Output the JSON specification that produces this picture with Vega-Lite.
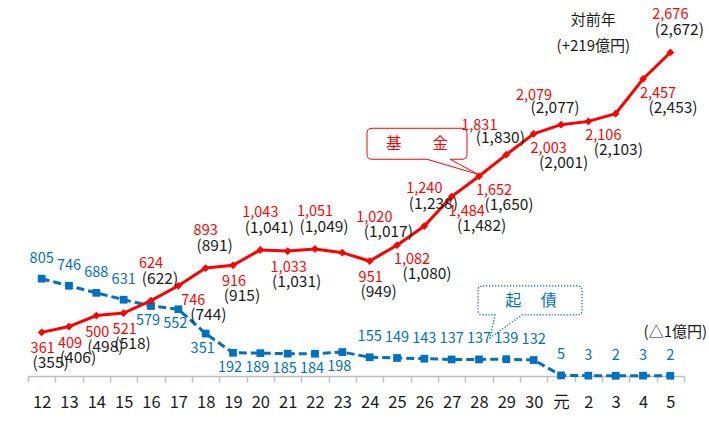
{
  "$schema": "https://vega.github.io/schema/vega-lite/v6.json",
  "width": 656,
  "height": 376,
  "autosize": {"type": "none"},
  "padding": {"left": 28, "top": 0, "right": 25, "bottom": 51},
  "background": "white",
  "config": {
    "view": {"stroke": null},
    "font": "Noto Sans CJK JP",
    "text": {"font": "Noto Sans CJK JP", "fontSize": 14, "baseline": "middle"}
  },
  "datasets": {
    "main": [
      {"year": "12", "fund": 361, "fundPrev": "(355)", "bond": 805},
      {"year": "13", "fund": 409, "fundPrev": "(406)", "bond": 746},
      {"year": "14", "fund": 500, "fundPrev": "(498)", "bond": 688},
      {"year": "15", "fund": 521, "fundPrev": "(518)", "bond": 631},
      {"year": "16", "fund": 624, "fundPrev": "(622)", "bond": 579},
      {"year": "17", "fund": 746, "fundPrev": "(744)", "bond": 552},
      {"year": "18", "fund": 893, "fundPrev": "(891)", "bond": 351},
      {"year": "19", "fund": 916, "fundPrev": "(915)", "bond": 192},
      {"year": "20", "fund": 1043, "fundPrev": "(1,041)", "bond": 189},
      {"year": "21", "fund": 1033, "fundPrev": "(1,031)", "bond": 185},
      {"year": "22", "fund": 1051, "fundPrev": "(1,049)", "bond": 184},
      {"year": "23", "fund": 1020, "fundPrev": "(1,017)", "bond": 198},
      {"year": "24", "fund": 951, "fundPrev": "(949)", "bond": 155},
      {"year": "25", "fund": 1082, "fundPrev": "(1,080)", "bond": 149},
      {"year": "26", "fund": 1240, "fundPrev": "(1,238)", "bond": 143},
      {"year": "27", "fund": 1484, "fundPrev": "(1,482)", "bond": 137},
      {"year": "28", "fund": 1652, "fundPrev": "(1,650)", "bond": 137},
      {"year": "29", "fund": 1831, "fundPrev": "(1,830)", "bond": 139},
      {"year": "30", "fund": 2003, "fundPrev": "(2,001)", "bond": 132},
      {"year": "元", "fund": 2079, "fundPrev": "(2,077)", "bond": 5},
      {"year": "2", "fund": 2106, "fundPrev": "(2,103)", "bond": 3},
      {"year": "3", "fund": 2170, "fundPrev": null, "bond": 2},
      {"year": "4", "fund": 2457, "fundPrev": "(2,453)", "bond": 3},
      {"year": "5", "fund": 2676, "fundPrev": "(2,672)", "bond": 2}
    ]
  },
  "data": {"name": "main"},
  "encoding": {
    "x": {
      "field": "year",
      "type": "ordinal",
      "sort": null,
      "scale": {
        "type": "band",
        "domain": ["12", "13", "14", "15", "16", "17", "18", "19", "20", "21", "22", "23", "24", "25", "26", "27", "28", "29", "30", "元", "2", "3", "4", "5"],
        "paddingInner": 0,
        "paddingOuter": 0
      },
      "axis": {
        "title": null,
        "tickBand": "extent",
        "grid": false,
        "labelAngle": 0,
        "domainColor": "#BFBFBF",
        "domainWidth": 1.5,
        "tickColor": "#BFBFBF",
        "tickWidth": 1.5,
        "tickSize": 6,
        "labelFont": "Noto Sans CJK JP",
        "labelFontSize": 16.5,
        "labelColor": "#1a1a1a",
        "labelPadding": 12
      }
    }
  },
  "layer": [
    {
      "mark": {"type": "line", "color": "#0070C0", "strokeWidth": 3, "strokeDash": [8, 4]},
      "encoding": {"y": {"field": "bond", "type": "quantitative", "scale": {"domain": [0, 3110]}, "axis": null}}
    },
    {
      "mark": {"type": "point", "shape": "square", "filled": true, "size": 60, "color": "#0070C0", "opacity": 1},
      "encoding": {"y": {"field": "bond", "type": "quantitative", "scale": {"domain": [0, 3110]}, "axis": null}}
    },
    {
      "data": {"values": [{"year": "28", "value": 1652, "name": "基　　金"}]},
      "layer": [
        {
          "mark": {
            "type": "point",
            "shape": "M -107,-48 H -17 Q -12,-48 -12,-43 V -22 Q -12,-17 -17,-17 H -29 L -1,-2 L -52,-17 H -107 Q -112,-17 -112,-22 V -43 Q -112,-48 -107,-48 Z",
            "size": 4,
            "filled": true,
            "fill": "white",
            "stroke": "#FF0000",
            "strokeWidth": 1,
            "opacity": 1
          },
          "encoding": {"y": {"field": "value", "type": "quantitative", "scale": {"domain": [0, 3110]}, "axis": null}}
        },
        {
          "mark": {"type": "text", "color": "#FF0000", "fontSize": 15.5, "dx": -62, "dy": -32},
          "encoding": {
            "y": {"field": "value", "type": "quantitative", "scale": {"domain": [0, 3110]}, "axis": null},
            "text": {"field": "name"}
          }
        }
      ]
    },
    {
      "mark": {"type": "line", "color": "#FF0000", "strokeWidth": 3},
      "encoding": {"y": {"field": "fund", "type": "quantitative", "scale": {"domain": [0, 3110]}, "axis": null}}
    },
    {
      "mark": {"type": "point", "shape": "diamond", "filled": true, "size": 60, "color": "#FF0000", "opacity": 1},
      "encoding": {"y": {"field": "fund", "type": "quantitative", "scale": {"domain": [0, 3110]}, "axis": null}}
    },
    {
      "transform": [{"filter": {"field": "year", "oneOf": ["16", "18", "20", "22", "26", "5"]}}],
      "layer": [
        {
          "mark": {"type": "text", "color": "#FF0000", "fontSize": 14.5, "dx": 0, "dy": -37},
          "encoding": {
            "y": {"field": "fund", "type": "quantitative", "scale": {"domain": [0, 3110]}, "axis": null},
            "text": {"field": "fund", "type": "quantitative", "format": ","}
          }
        },
        {
          "mark": {"type": "text", "color": "#1a1a1a", "fontSize": 15.5, "dx": 9, "dy": -22},
          "encoding": {
            "y": {"field": "fund", "type": "quantitative", "scale": {"domain": [0, 3110]}, "axis": null},
            "text": {"field": "fundPrev"}
          }
        }
      ]
    },
    {
      "transform": [{"filter": {"field": "year", "oneOf": ["23"]}}],
      "layer": [
        {
          "mark": {"type": "text", "color": "#FF0000", "fontSize": 14.5, "dx": 32, "dy": -35},
          "encoding": {
            "y": {"field": "fund", "type": "quantitative", "scale": {"domain": [0, 3110]}, "axis": null},
            "text": {"field": "fund", "type": "quantitative", "format": ","}
          }
        },
        {
          "mark": {"type": "text", "color": "#1a1a1a", "fontSize": 15.5, "dx": 46, "dy": -21},
          "encoding": {
            "y": {"field": "fund", "type": "quantitative", "scale": {"domain": [0, 3110]}, "axis": null},
            "text": {"field": "fundPrev"}
          }
        }
      ]
    },
    {
      "transform": [{"filter": {"field": "year", "oneOf": ["29", "元"]}}],
      "layer": [
        {
          "mark": {"type": "text", "color": "#FF0000", "fontSize": 14.5, "dx": -27, "dy": -29},
          "encoding": {
            "y": {"field": "fund", "type": "quantitative", "scale": {"domain": [0, 3110]}, "axis": null},
            "text": {"field": "fund", "type": "quantitative", "format": ","}
          }
        },
        {
          "mark": {"type": "text", "color": "#1a1a1a", "fontSize": 15.5, "dx": -6, "dy": -17},
          "encoding": {
            "y": {"field": "fund", "type": "quantitative", "scale": {"domain": [0, 3110]}, "axis": null},
            "text": {"field": "fundPrev"}
          }
        }
      ]
    },
    {
      "transform": [{"filter": {"field": "year", "oneOf": ["12", "13", "14", "15", "19", "21", "24"]}}],
      "layer": [
        {
          "mark": {"type": "text", "color": "#FF0000", "fontSize": 14.5, "dx": 1, "dy": 17},
          "encoding": {
            "y": {"field": "fund", "type": "quantitative", "scale": {"domain": [0, 3110]}, "axis": null},
            "text": {"field": "fund", "type": "quantitative", "format": ","}
          }
        },
        {
          "mark": {"type": "text", "color": "#1a1a1a", "fontSize": 15.5, "dx": 9, "dy": 31},
          "encoding": {
            "y": {"field": "fund", "type": "quantitative", "scale": {"domain": [0, 3110]}, "axis": null},
            "text": {"field": "fundPrev"}
          }
        }
      ]
    },
    {
      "transform": [{"filter": {"field": "year", "oneOf": ["17", "25", "27", "28", "30", "2", "4"]}}],
      "layer": [
        {
          "mark": {"type": "text", "color": "#FF0000", "fontSize": 14.5, "dx": 15, "dy": 15},
          "encoding": {
            "y": {"field": "fund", "type": "quantitative", "scale": {"domain": [0, 3110]}, "axis": null},
            "text": {"field": "fund", "type": "quantitative", "format": ","}
          }
        },
        {
          "mark": {"type": "text", "color": "#1a1a1a", "fontSize": 15.5, "dx": 30, "dy": 29},
          "encoding": {
            "y": {"field": "fund", "type": "quantitative", "scale": {"domain": [0, 3110]}, "axis": null},
            "text": {"field": "fundPrev"}
          }
        }
      ]
    },
    {
      "transform": [{"filter": {"field": "year", "oneOf": ["12", "13", "14", "15", "24", "25", "26", "27", "28", "29", "30", "元", "2", "3", "4", "5"]}}],
      "mark": {"type": "text", "color": "#0070C0", "fontSize": 14.5, "dy": -20},
      "encoding": {
        "y": {"field": "bond", "type": "quantitative", "scale": {"domain": [0, 3110]}, "axis": null},
        "text": {"field": "bond", "type": "quantitative", "format": ","}
      }
    },
    {
      "transform": [{"filter": {"field": "year", "oneOf": ["16", "17", "18", "19", "20", "21", "22", "23"]}}],
      "mark": {"type": "text", "color": "#0070C0", "fontSize": 14.5, "dx": -3, "dy": 15},
      "encoding": {
        "y": {"field": "bond", "type": "quantitative", "scale": {"domain": [0, 3110]}, "axis": null},
        "text": {"field": "bond", "type": "quantitative", "format": ","}
      }
    },
    {
      "data": {"values": [{"year": "28", "value": 315, "name": "起　  債"}]},
      "layer": [
        {
          "mark": {
            "type": "point",
            "shape": "M 4,-52 H 98 Q 103,-52 103,-47 V -28 Q 103,-23 98,-23 H 43 L 11,0 L 16,-23 H 4 Q -1,-23 -1,-28 V -47 Q -1,-52 4,-52 Z",
            "size": 4,
            "filled": true,
            "fill": "white",
            "stroke": "#0070C0",
            "strokeWidth": 1.3,
            "strokeDash": [1.3, 1.7],
            "opacity": 1
          },
          "encoding": {"y": {"field": "value", "type": "quantitative", "scale": {"domain": [0, 3110]}, "axis": null}}
        },
        {
          "mark": {"type": "text", "color": "#0070C0", "fontSize": 16, "dx": 52, "dy": -37},
          "encoding": {
            "y": {"field": "value", "type": "quantitative", "scale": {"domain": [0, 3110]}, "axis": null},
            "text": {"field": "name"}
          }
        }
      ]
    },
    {
      "data": {
        "values": [
          {"year": "2", "value": 2947, "note": "対前年"},
          {"year": "2", "value": 2732, "note": "(+219億円)"},
          {"year": "5", "value": 364, "note": "(△1億円)"}
        ]
      },
      "mark": {"type": "text", "color": "#1a1a1a", "fontSize": 15, "dx": 5},
      "encoding": {
        "y": {"field": "value", "type": "quantitative", "scale": {"domain": [0, 3110]}, "axis": null},
        "text": {"field": "note"}
      }
    }
  ]
}
